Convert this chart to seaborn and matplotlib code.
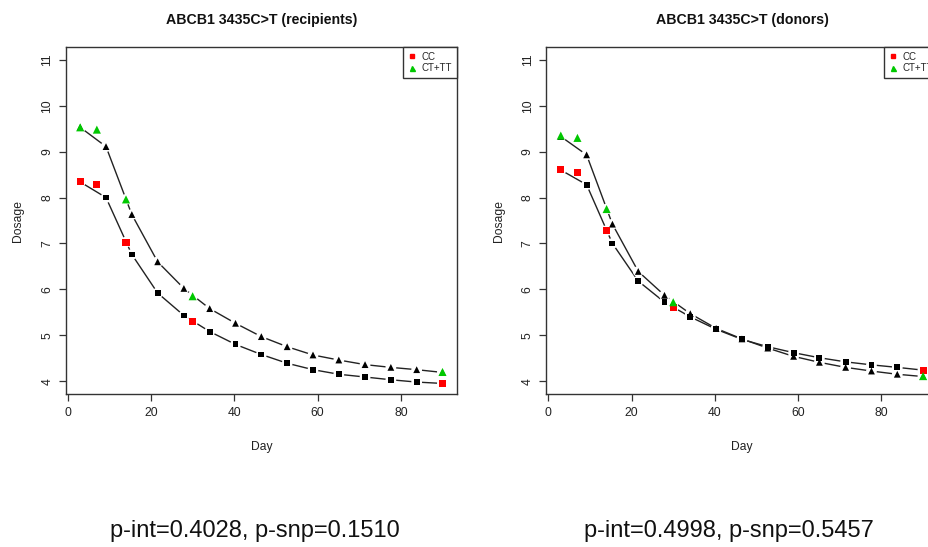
import matplotlib
matplotlib.use("Agg")
import matplotlib.pyplot as plt
import seaborn as sns
import pandas as pd
from matplotlib.lines import Line2D

# ---------------- data ----------------
obs_days = [3, 7, 14, 30, 90]
fit_days = [3, 9.2, 15.4, 21.6, 27.9, 34.1, 40.3, 46.5, 52.7, 58.9, 65.1, 71.4, 77.6, 83.8, 90]

rec_obs_cc = [8.35, 8.29, 7.03, 5.30, 3.95]
rec_obs_ct = [9.53, 9.48, 7.96, 5.85, 4.20]
rec_fit_cc = [8.34, 8.00, 6.76, 5.92, 5.43, 5.08, 4.80, 4.58, 4.39, 4.25, 4.15, 4.09, 4.03, 3.98, 3.95]
rec_fit_ct = [9.53, 9.11, 7.63, 6.60, 6.02, 5.58, 5.26, 4.97, 4.75, 4.57, 4.46, 4.36, 4.30, 4.25, 4.19]

don_obs_cc = [8.61, 8.55, 7.28, 5.60, 4.24]
don_obs_ct = [9.35, 9.30, 7.75, 5.72, 4.11]
don_fit_cc = [8.60, 8.28, 7.00, 6.18, 5.72, 5.40, 5.13, 4.91, 4.75, 4.62, 4.51, 4.42, 4.355, 4.30, 4.24]
don_fit_ct = [9.33, 8.93, 7.42, 6.39, 5.87, 5.47, 5.15, 4.92, 4.72, 4.54, 4.41, 4.30, 4.22, 4.15, 4.10]

titles = ["ABCB1 3435C>T (recipients)", "ABCB1 3435C>T (donors)"]
pvals = ["p-int=0.4028, p-snp=0.1510", "p-int=0.4998, p-snp=0.5457"]
groups = ["CC", "CT+TT"]
x_ticks = [0, 20, 40, 60, 80]
y_ticks = [4, 5, 6, 7, 8, 9, 10, 11]

RED = "#FF0000"
GREEN = "#00C800"

sns.set_theme(style="white")
plt.rcParams["font.family"] = ["Liberation Sans", "DejaVu Sans"]

fig = plt.figure(figsize=(9.29, 5.47), dpi=100)
W, H = 929, 547
ax_w = 391.3 / W
ax_h = 347.0 / H
bottom = (H - 394) / H
lefts = [65.7 / W, 546.3 / W]

panels = [
    (rec_obs_cc, rec_obs_ct, rec_fit_cc, rec_fit_ct),
    (don_obs_cc, don_obs_ct, don_fit_cc, don_fit_ct),
]

for i, (ocq, oct_, fcc, fct) in enumerate(panels):
    ax = fig.add_axes([lefts[i], bottom, ax_w, ax_h])
    fit_df = pd.DataFrame({"day": fit_days * 2,
                           "dose": fcc + fct,
                           "grp": ["CC"] * len(fit_days) + ["CT+TT"] * len(fit_days)})
    obs_df = pd.DataFrame({"day": obs_days * 2,
                           "dose": ocq + oct_,
                           "grp": ["CC"] * len(obs_days) + ["CT+TT"] * len(obs_days)})
    for g, mk, col in [("CC", "s", RED), ("CT+TT", "^", GREEN)]:
        fd = fit_df[fit_df.grp == g]
        od = obs_df[obs_df.grp == g]
        sns.lineplot(data=fd, x="day", y="dose", ax=ax, color="#222222",
                     lw=1.0, sort=False, estimator=None, zorder=2)
        # white gaps around points (R type="b")
        sns.scatterplot(data=fd, x="day", y="dose", ax=ax, marker="o", s=60,
                        color="white", edgecolor="none", zorder=3)
        sns.scatterplot(data=od, x="day", y="dose", ax=ax, marker="o", s=60,
                        color="white", edgecolor="none", zorder=3)
        sns.scatterplot(data=fd, x="day", y="dose", ax=ax, marker=mk,
                        s=18 if mk == "s" else 24, color="black",
                        edgecolor="none", zorder=4)
        sns.scatterplot(data=od, x="day", y="dose", ax=ax, marker=mk,
                        s=26 if mk == "s" else 34, color=col,
                        edgecolor="none", zorder=5)

    ax.set_xlim(-0.48, 93.48)
    ax.set_ylim(3.72, 11.28)
    ax.set_xticks(x_ticks)
    ax.set_yticks(y_ticks)
    ax.set_xticklabels([str(t) for t in x_ticks])
    ax.set_yticklabels([str(t) for t in y_ticks], rotation=90, va="center")
    ax.tick_params(axis="both", which="major", direction="out", length=5,
                   width=0.9, color="#333333", labelsize=8.7, labelcolor="#222222",
                   pad=4, bottom=True, left=True)
    for s in ax.spines.values():
        s.set_color("#333333")
        s.set_linewidth(1.0)
        s.set_visible(True)
    ax.set_xlabel("Day", fontsize=8.7, color="#222222")
    ax.set_ylabel("Dosage", fontsize=8.7, color="#222222")
    ax.xaxis.set_label_coords(0.5, -0.135)
    ax.yaxis.set_label_coords(-0.106, 0.5)
    ax.set_title(titles[i], fontsize=10.2, fontweight="bold", pad=16.5, color="#111111")

    handles = [Line2D([], [], marker="s", color=RED, linestyle="none", markersize=3.2),
               Line2D([], [], marker="^", color=GREEN, linestyle="none", markersize=3.6)]
    leg = ax.legend(handles, groups, loc="upper right", fontsize=7,
                    frameon=True, fancybox=False, borderaxespad=0,
                    handlelength=0.8, handletextpad=0.6, borderpad=0.5,
                    labelspacing=0.15)
    leg.get_frame().set_edgecolor("#333333")
    leg.get_frame().set_linewidth(1.0)
    leg.get_frame().set_alpha(1)

    cx = [255 / W, 729 / W][i]
    fig.text(cx, 1 - 531 / H, pvals[i], fontsize=17, ha="center", va="center",
             color="#111111")

fig.savefig("out.png", dpi=100, facecolor="white")
